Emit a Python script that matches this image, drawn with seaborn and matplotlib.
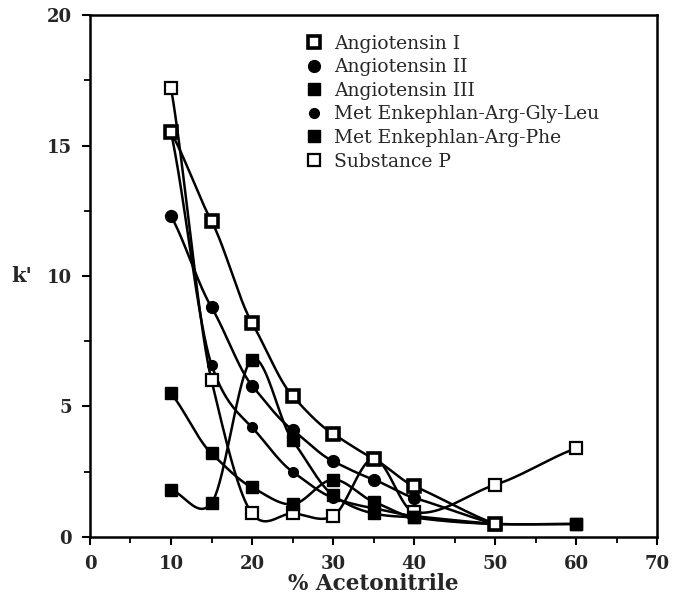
import numpy as np
import pandas as pd
import seaborn as sns
import matplotlib
matplotlib.use("Agg")
import matplotlib.pyplot as plt
from matplotlib.lines import Line2D
from matplotlib.ticker import MultipleLocator

nan = np.nan
acetonitrile = [10, 15, 20, 25, 30, 35, 40, 50, 60]
angiotensin_1 = [15.5, 12.1, 8.2, 5.4, 3.95, 3.0, 1.95, 0.5, nan]
angiotensin_2 = [12.3, 8.8, 5.8, 4.1, 2.9, 2.2, 1.5, 0.5, nan]
angiotensin_3 = [1.8, 1.3, 6.8, 3.7, 1.6, 0.9, 0.75, 0.5, 0.5]
met_gly_leu = [15.5, 6.6, 4.2, 2.5, 1.5, 1.1, 0.8, 0.5, nan]
met_phe = [5.5, 3.2, 1.9, 1.25, 2.2, 1.35, 0.75, 0.5, 0.5]
substance_p = [17.2, 6.0, 0.9, 0.9, 0.8, 3.0, 0.95, 2.0, 3.4]

labels = ["Angiotensin I", "Angiotensin II", "Angiotensin III",
          "Met Enkephlan-Arg-Gly-Leu", "Met Enkephlan-Arg-Phe", "Substance P"]
series = [angiotensin_1, angiotensin_2, angiotensin_3, met_gly_leu, met_phe, substance_p]

styles = {
    "Angiotensin I": dict(marker="s", ms=8, mfc="white", mec="black", mew=2.6),
    "Angiotensin II": dict(marker="o", ms=8.5, mfc="black", mec="black", mew=1),
    "Angiotensin III": dict(marker="s", ms=8.5, mfc="black", mec="black", mew=1),
    "Met Enkephlan-Arg-Gly-Leu": dict(marker="o", ms=7, mfc="black", mec="black", mew=1),
    "Met Enkephlan-Arg-Phe": dict(marker="s", ms=9, mfc="black", mec="black", mew=1),
    "Substance P": dict(marker="s", ms=8, mfc="white", mec="black", mew=1.6),
}

def smooth_curve(x, y, n=40, tension=0.8):
    x = np.asarray(x, float)
    y = np.asarray(y, float)
    m = np.empty_like(y)
    m[0] = (y[1] - y[0]) / (x[1] - x[0])
    m[-1] = (y[-1] - y[-2]) / (x[-1] - x[-2])
    for i in range(1, len(x) - 1):
        m[i] = (y[i + 1] - y[i - 1]) / (x[i + 1] - x[i - 1])
    m = m * tension
    xs, ys = [], []
    for i in range(len(x) - 1):
        h = x[i + 1] - x[i]
        t = np.linspace(0, 1, n)
        h00 = 2 * t**3 - 3 * t**2 + 1
        h10 = t**3 - 2 * t**2 + t
        h01 = -2 * t**3 + 3 * t**2
        h11 = t**3 - t**2
        xs.append(x[i] + h * t)
        ys.append(h00 * y[i] + h10 * h * m[i] + h01 * y[i + 1] + h11 * h * m[i + 1])
    return np.concatenate(xs), np.concatenate(ys)

rows = []
curve_rows = []
for lab, vals in zip(labels, series):
    xv = [a for a, v in zip(acetonitrile, vals) if not np.isnan(v)]
    yv = [v for v in vals if not np.isnan(v)]
    for a, v in zip(xv, yv):
        rows.append({"x": a, "k": v, "peptide": lab})
    cx, cy = smooth_curve(xv, yv)
    for a, v in zip(cx, cy):
        curve_rows.append({"x": a, "k": v, "peptide": lab})
df = pd.DataFrame(rows)
curves = pd.DataFrame(curve_rows)

sns.set_style("white")
plt.rcParams["font.family"] = ["DejaVu Serif"]

fig = plt.figure(figsize=(6.74, 6.10), dpi=100)
ax = fig.add_axes([0.1335, 0.1197, 0.8415, 0.8557])

sns.lineplot(data=curves, x="x", y="k", hue="peptide", units="peptide",
             estimator=None, sort=False, palette=["black"] * 6,
             linewidth=1.8, legend=False, ax=ax)

# draw in reverse so Angiotensin I squares sit on top of coincident points
for z, lab in enumerate(reversed(labels)):
    sub = df[df["peptide"] == lab]
    ax.plot(sub["x"], sub["k"], linestyle="none", zorder=5 + z, **styles[lab])

ax.set_xlim(0, 70)
ax.set_ylim(0, 20)
ax.xaxis.set_major_locator(MultipleLocator(10))
ax.xaxis.set_minor_locator(MultipleLocator(5))
ax.yaxis.set_major_locator(MultipleLocator(5))
ax.yaxis.set_minor_locator(MultipleLocator(2.5))
ax.tick_params(which="major", direction="out", length=6, width=1.5, color="black",
               labelsize=13, pad=7, bottom=True, left=True)
ax.tick_params(which="minor", direction="out", length=4, width=1.3, color="black",
               bottom=True, left=True)
for t in ax.get_xticklabels() + ax.get_yticklabels():
    t.set_fontweight("bold")
for s in ax.spines.values():
    s.set_color("black")
    s.set_linewidth(1.8)
    s.set_visible(True)

ax.set_xlabel("% Acetonitrile", fontsize=15.5, fontweight="bold", labelpad=0)
ax.set_ylabel("k'", fontsize=15, fontweight="bold", rotation=0, va="center", ha="center")
ax.yaxis.set_label_coords(-0.12, 0.5)

handles = [Line2D([], [], linestyle="none", **styles[lab]) for lab in labels]
ax.legend(handles, labels, loc="upper left", bbox_to_anchor=(0.365, 0.977),
          frameon=False, fontsize=13.5, handlelength=1.0, handletextpad=0.6,
          labelspacing=0.3, borderaxespad=0)

fig.savefig("out.png", dpi=100, facecolor="white")
